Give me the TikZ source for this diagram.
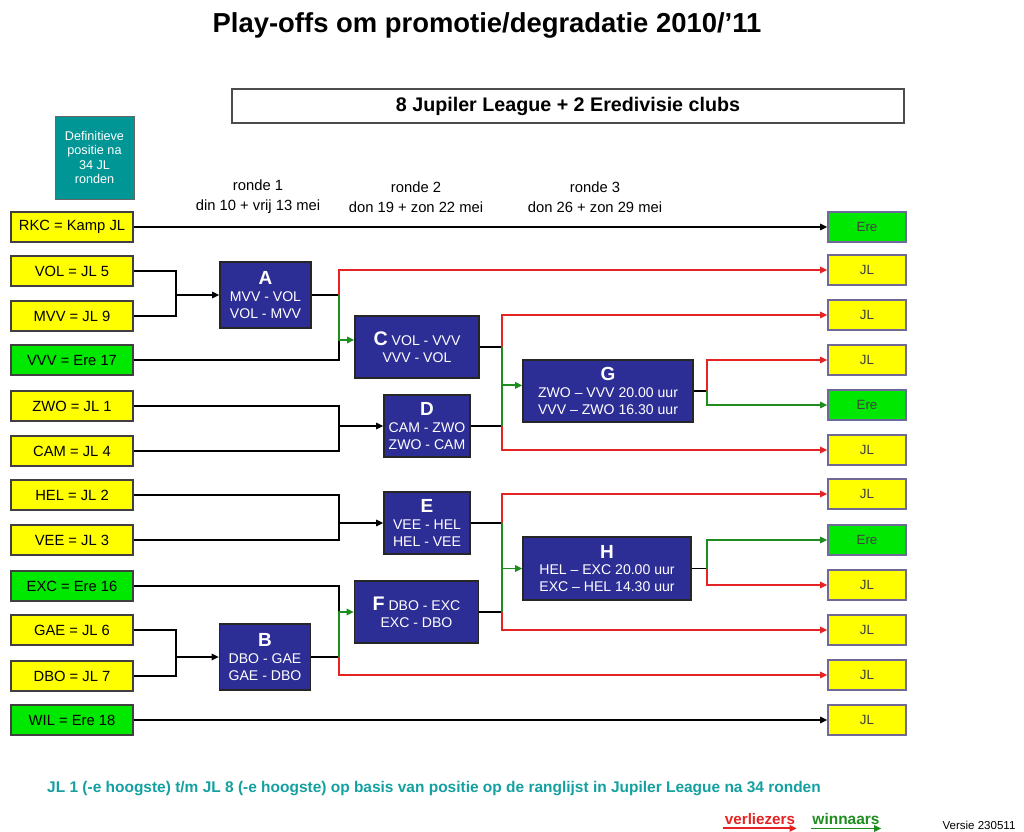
\documentclass[tikz,border=0pt]{standalone}
\usepackage{fontspec}
\setmainfont{Liberation Sans}
\usepackage{xcolor}
\usepackage{tikz}
\usetikzlibrary{arrows.meta, positioning}

\definecolor{navybox}{RGB}{45,45,150}
\definecolor{tealbox}{RGB}{0,150,150}
\definecolor{tealtext}{RGB}{20,160,160}
\definecolor{clubyellow}{RGB}{255,255,0}
\definecolor{eregreen}{RGB}{0,232,0}
\definecolor{slotborder}{RGB}{110,105,150}
\definecolor{loserred}{RGB}{230,35,35}
\definecolor{winnergreen}{RGB}{30,140,30}

\begin{document}
\begin{tikzpicture}[x=0.025cm, y=-0.025cm, % one unit = one pixel of the sheet
          club/.style={draw=black!75, line width=1.1pt, minimum width=3.05cm, minimum height=0.75cm, inner sep=0pt, font=\fontsize{10.5}{12}\selectfont},
          jl/.style={club, fill=clubyellow},
          ere/.style={club, fill=eregreen},
          slot/.style={club, draw=slotborder, minimum width=1.95cm, text=black!75, font=\fontsize{9.5}{11}\selectfont},
          jlslot/.style={slot, fill=clubyellow},
          ereslot/.style={slot, fill=eregreen},
          match/.style={draw=black!85, line width=1.1pt, fill=navybox, text=white, align=center, inner sep=0pt, font=\fontsize{10}{12}\selectfont},
          ronde/.style={font=\fontsize{10.5}{14}\selectfont, align=center},
          link/.style={line width=1.3pt},
          into/.style={link, -{Triangle[length=5pt,width=4.5pt]}},
          lose/.style={into, draw=loserred},
          win/.style={into, draw=winnergreen},
          winline/.style={link, draw=winnergreen}
        ]
        \useasboundingbox (0,0) rectangle (1024,832);

        % Titel en koppen
        \node[font=\bfseries\fontsize{19.5}{22}\selectfont] (title) at (487,25) {Play-offs om promotie/degradatie 2010/'11};
        \node[draw=black!70, line width=1pt, minimum width=16.8cm, minimum height=0.85cm, font=\bfseries\fontsize{14}{16}\selectfont] (clubs) at (568,106) {8 Jupiler League + 2 Eredivisie clubs};
        \node[draw=black!60, fill=tealbox, text=white, minimum width=1.975cm, minimum height=2.075cm, align=center, font=\fontsize{9}{10}\selectfont] (def) at (94.5,157.5) {Definitieve\\positie na\\34 JL\\ronden};
        \node[ronde] (ronde1) at (258,197) {ronde 1\\din 10 + vrij 13 mei};
        \node[ronde] (ronde2) at (416,197) {ronde 2\\don 19 + zon 22 mei};
        \node[ronde] (ronde3) at (595,197) {ronde 3\\don 26 + zon 29 mei};

        % Clubs links
        \node[jl] (rkc) at (72,227) {RKC = Kamp JL};
        \node[jl] (vol) at (72,271) {VOL = JL 5};
        \node[jl] (mvv) at (72,316) {MVV = JL 9};
        \node[ere] (vvv) at (72,360) {VVV = Ere 17};
        \node[jl] (zwo) at (72,406) {ZWO = JL 1};
        \node[jl] (cam) at (72,451) {CAM = JL 4};
        \node[jl] (hel) at (72,495) {HEL = JL 2};
        \node[jl] (vee) at (72,540) {VEE = JL 3};
        \node[ere] (exc) at (72,586) {EXC = Ere 16};
        \node[jl] (gae) at (72,630) {GAE = JL 6};
        \node[jl] (dbo) at (72,676) {DBO = JL 7};
        \node[ere] (wil) at (72,720) {WIL = Ere 18};

        % Uitkomst rechts
        \node[ereslot] (res1) at (867,227) {Ere};
        \node[jlslot] (res2) at (867,270) {JL};
        \node[jlslot] (res3) at (867,315) {JL};
        \node[jlslot] (res4) at (867,360) {JL};
        \node[ereslot] (res5) at (867,405) {Ere};
        \node[jlslot] (res6) at (867,450) {JL};
        \node[jlslot] (res7) at (867,494) {JL};
        \node[ereslot] (res8) at (867,540) {Ere};
        \node[jlslot] (res9) at (867,585) {JL};
        \node[jlslot] (res10) at (867,630) {JL};
        \node[jlslot] (res11) at (867,675) {JL};
        \node[jlslot] (res12) at (867,720) {JL};

        % Wedstrijden
        \node[match, minimum width=2.275cm, minimum height=1.65cm] (a) at (265.5,295) {{\bfseries\fontsize{13.5}{14}\selectfont A}\\MVV - VOL\\VOL - MVV};
        \node[match, minimum width=2.275cm, minimum height=1.65cm] (b) at (265,657) {{\bfseries\fontsize{13.5}{14}\selectfont B}\\DBO - GAE\\GAE - DBO};
        \node[match, minimum width=3.1cm, minimum height=1.55cm] (c) at (417,347) {{\bfseries\fontsize{14}{14}\selectfont C} VOL - VVV\\VVV - VOL};
        \node[match, minimum width=2.15cm, minimum height=1.55cm] (d) at (427,426) {{\bfseries\fontsize{13.5}{14}\selectfont D}\\CAM - ZWO\\ZWO - CAM};
        \node[match, minimum width=2.15cm, minimum height=1.55cm] (e) at (427,523) {{\bfseries\fontsize{13.5}{14}\selectfont E}\\VEE - HEL\\HEL - VEE};
        \node[match, minimum width=3.1cm, minimum height=1.55cm] (f) at (416.5,612) {{\bfseries\fontsize{14}{14}\selectfont F} DBO - EXC\\EXC - DBO};
        \node[match, minimum width=4.25cm, minimum height=1.55cm] (g) at (608,391) {{\bfseries\fontsize{13.5}{14}\selectfont G}\\ZWO -- VVV 20.00 uur\\VVV -- ZWO 16.30 uur};
        \node[match, minimum width=4.2cm, minimum height=1.57cm] (h) at (607,568.5) {{\bfseries\fontsize{13.5}{14}\selectfont H}\\HEL -- EXC 20.00 uur\\EXC -- HEL 14.30 uur};

        % Kolommen waar de lijnen samenkomen
        \coordinate (k1) at (176,0);
        \coordinate (k2) at (339,0);
        \coordinate (k3) at (502,0);
        \coordinate (k4) at (707,0);
        % ingang van C en G iets boven het midden
        \coordinate (cin) at ([yshift=5pt]c.west);
        \coordinate (gin) at ([yshift=4pt]g.west);

        % Direct door
        \draw[into] (rkc) -- (res1);
        \draw[into] (wil) -- (res12);

        % Ronde 1
        \draw[link] (vol.east) -| (k1 |- mvv.east) -- (mvv.east);
        \draw[into] (k1 |- a.west) -- (a.west);
        \draw[link] (gae.east) -| (k1 |- dbo.east) -- (dbo.east);
        \draw[into] (k1 |- b.west) -- (b.west);

        % Ronde 2
        \draw[link] (a.east) -- (k2 |- a.east);
        \draw[lose] (k2 |- a.east) |- (res2.west);
        \draw[link] (vvv.east) -| (k2 |- cin);
        \draw[win] (k2 |- a.east) |- (cin);
        \draw[link] (zwo.east) -| (k2 |- cam.east) -- (cam.east);
        \draw[into] (k2 |- d.west) -- (d.west);
        \draw[link] (hel.east) -| (k2 |- vee.east) -- (vee.east);
        \draw[into] (k2 |- e.west) -- (e.west);
        \draw[link] (b.east) -- (k2 |- b.east);
        \draw[lose] (k2 |- b.east) |- (res11.west);
        \draw[link] (exc.east) -| (k2 |- f.west);
        \draw[win] (k2 |- b.east) |- (f.west);

        % Ronde 3
        \draw[link] (c.east) -- (k3 |- c.east);
        \draw[link] (d.east) -- (k3 |- d.east);
        \draw[lose] (k3 |- c.east) |- (res3.west);
        \draw[lose] (k3 |- d.east) |- (res6.west);
        \draw[winline] (k3 |- c.east) -- (k3 |- d.east);
        \draw[win] (k3 |- gin) -- (gin);
        \draw[link] (e.east) -- (k3 |- e.east);
        \draw[link] (f.east) -- (k3 |- f.east);
        \draw[lose] (k3 |- e.east) |- (res7.west);
        \draw[lose] (k3 |- f.east) |- (res10.west);
        \draw[winline] (k3 |- e.east) -- (k3 |- f.east);
        \draw[win] (k3 |- h.west) -- (h.west);

        % Finales
        \draw[link] (g.east) -- (k4 |- g.east);
        \draw[lose] (k4 |- g.east) |- (res4.west);
        \draw[win] (k4 |- g.east) |- (res5.west);
        \draw[link] (h.east) -- (k4 |- h.east);
        \draw[lose] (k4 |- h.east) |- (res9.west);
        \draw[win] (k4 |- h.east) |- (res8.west);

        % Voetnoot en legenda
        \node[text=tealtext, font=\bfseries\fontsize{11}{12}\selectfont] (note) at (434,789) {JL 1 (-e hoogste) t/m JL 8 (-e hoogste) op basis van positie op de ranglijst in Jupiler League na 34 ronden};
        \node[text=loserred, font=\bfseries\fontsize{10.8}{11}\selectfont, inner sep=1pt] (verl) at (760,819) {verliezers};
        \node[text=winnergreen, font=\bfseries\fontsize{11}{11}\selectfont, inner sep=1pt] (winn) at (846,819) {winnaars};
        \draw[lose] ([yshift=-1.5pt]verl.south west) -- ([yshift=-1.5pt]verl.south east);
        \draw[win] ([yshift=-1.5pt]winn.south west) -- ([yshift=-1.5pt]winn.south east);
        \node[font=\fontsize{8.2}{9}\selectfont] (versie) at (979,825) {Versie 230511};
\end{tikzpicture}
\end{document}
